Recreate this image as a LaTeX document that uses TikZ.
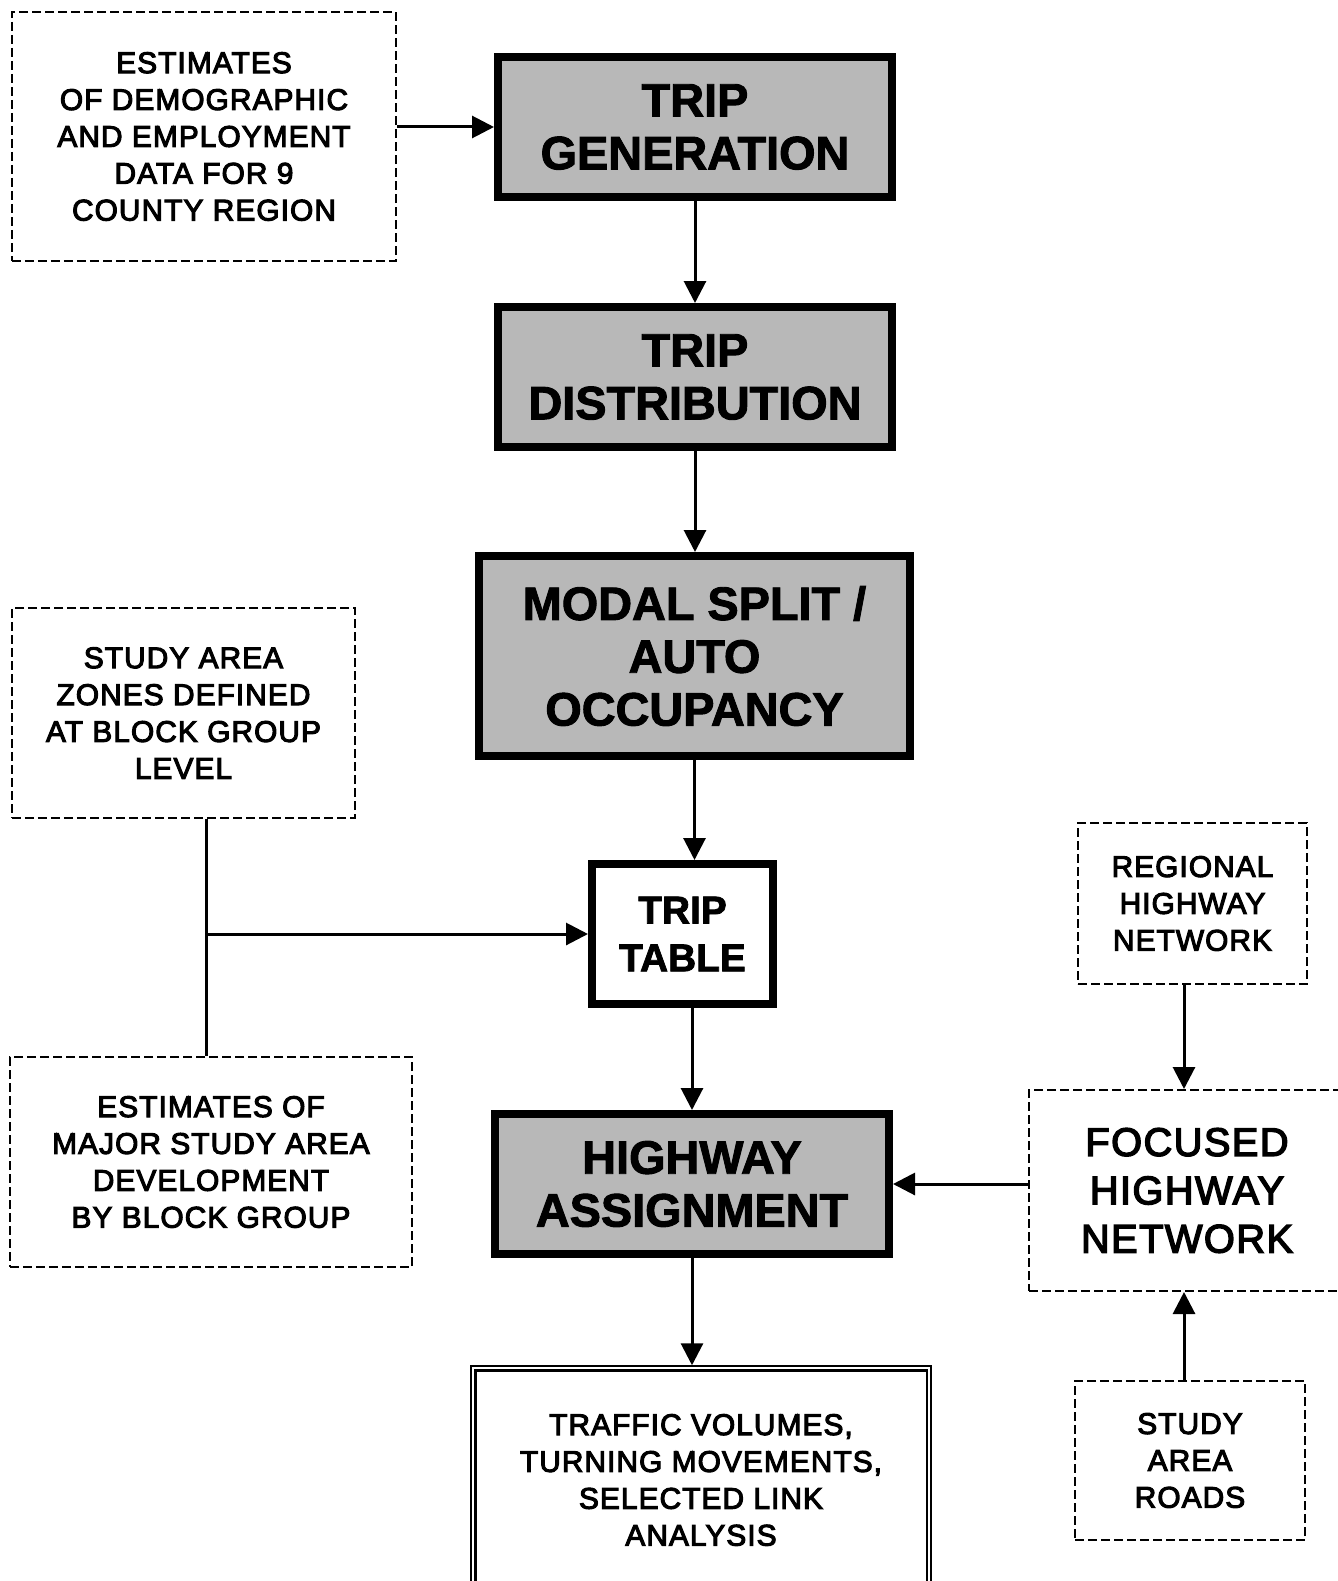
\documentclass[tikz,border=0pt]{standalone}
\usepackage{fontspec}
\setmainfont{Liberation Sans}
\newfontfamily\medfont[FakeBold=3.5,LetterSpace=3.5]{Liberation Sans}
\newfontfamily\bigfont[FakeBold=2]{Liberation Sans Bold}
\usetikzlibrary{arrows.meta}
\tikzset{
  dbox/.style={draw, line width=2bp, dash pattern=on 9bp off 4bp, align=center, inner sep=0pt,
    font=\medfont\fontsize{30}{37}\selectfont},
  pbox/.style={draw, line width=8bp, fill=black!28, align=center, inner sep=0pt,
    font=\bigfont\fontsize{47}{53}\selectfont},
  wbox/.style={draw, line width=8bp, fill=white, align=center, inner sep=0pt,
    font=\bigfont\fontsize{39}{48}\selectfont},
  arr/.style={line width=3bp, -{Triangle[length=22bp,width=22bp]}},
  plain/.style={line width=3bp}
}
\begin{document}
\begin{tikzpicture}[x=1bp,y=-1bp]
\useasboundingbox (0,0) rectangle (1338,1581);
\fill[white] (0,0) rectangle (1338,1581);

\node[dbox, minimum width=384bp, minimum height=249bp] (est) at (204,136.5)
  {ESTIMATES\\OF DEMOGRAPHIC\\AND EMPLOYMENT\\DATA FOR 9\\COUNTY REGION};
\node[pbox, minimum width=394bp, minimum height=140bp] (tg) at (695,127)
  {TRIP\\GENERATION};
\node[pbox, minimum width=394bp, minimum height=140bp] (td) at (695,377)
  {TRIP\\DISTRIBUTION};
\node[pbox, minimum width=431bp, minimum height=200bp] (ms) at (694.5,656)
  {MODAL SPLIT /\\AUTO\\OCCUPANCY};
\node[wbox, minimum width=181bp, minimum height=140bp] (tt) at (682.5,934)
  {TRIP\\TABLE};
\node[pbox, minimum width=394bp, minimum height=140bp] (hw) at (692,1184)
  {HIGHWAY\\ASSIGNMENT};
\node[draw, line width=1.5bp, minimum width=460bp, minimum height=228bp,
  align=center, inner sep=0pt, font=\medfont\fontsize{30}{37}\selectfont] (out) at (701,1480)
  {TRAFFIC VOLUMES,\\TURNING MOVEMENTS,\\SELECTED LINK\\ANALYSIS};
\draw[line width=2.5bp] ([xshift=5bp,yshift=-5bp]out.north west) rectangle ([xshift=-5bp,yshift=-5bp]out.south east);
\node[dbox, minimum width=343bp, minimum height=210bp] (zones) at (183.5,713)
  {STUDY AREA\\ZONES DEFINED\\AT BLOCK GROUP\\LEVEL};
\node[dbox, minimum width=402bp, minimum height=210bp] (major) at (211,1162)
  {ESTIMATES OF\\MAJOR STUDY AREA\\DEVELOPMENT\\BY BLOCK GROUP};
\node[dbox, minimum width=229bp, minimum height=161bp] (reg) at (1192.5,903.5)
  {REGIONAL\\HIGHWAY\\NETWORK};
\node[dbox, minimum width=316bp, minimum height=201bp,
  font=\medfont\fontsize{40}{48.5}\selectfont] (foc) at (1187,1190.5)
  {FOCUSED\\HIGHWAY\\NETWORK};
\node[dbox, minimum width=230bp, minimum height=159bp] (roads) at (1190,1460.5)
  {STUDY\\AREA\\ROADS};

\draw[arr] (est.east |- tg.west) -- (tg.west);
\draw[arr] (tg.south) -- (td.north);
\draw[arr] (td.south) -- (td.south |- ms.north);
\draw[arr] (ms.south) -- (ms.south |- tt.north);
\draw[arr] (hw.north |- tt.south) -- (hw.north);
\draw[arr] (hw.south) -- (hw.south |- out.north);

\coordinate (j) at (206,934);
\draw[plain] (j |- zones.south) -- (j |- major.north);
\draw[arr] (j) -- (tt.west);

\coordinate (rx) at (1184,0);
\draw[arr] (rx |- reg.south) -- (rx |- foc.north);
\draw[arr] (foc.west |- hw.east) -- (hw.east);
\draw[arr] (rx |- roads.north) -- (rx |- foc.south);
\end{tikzpicture}
\end{document}
